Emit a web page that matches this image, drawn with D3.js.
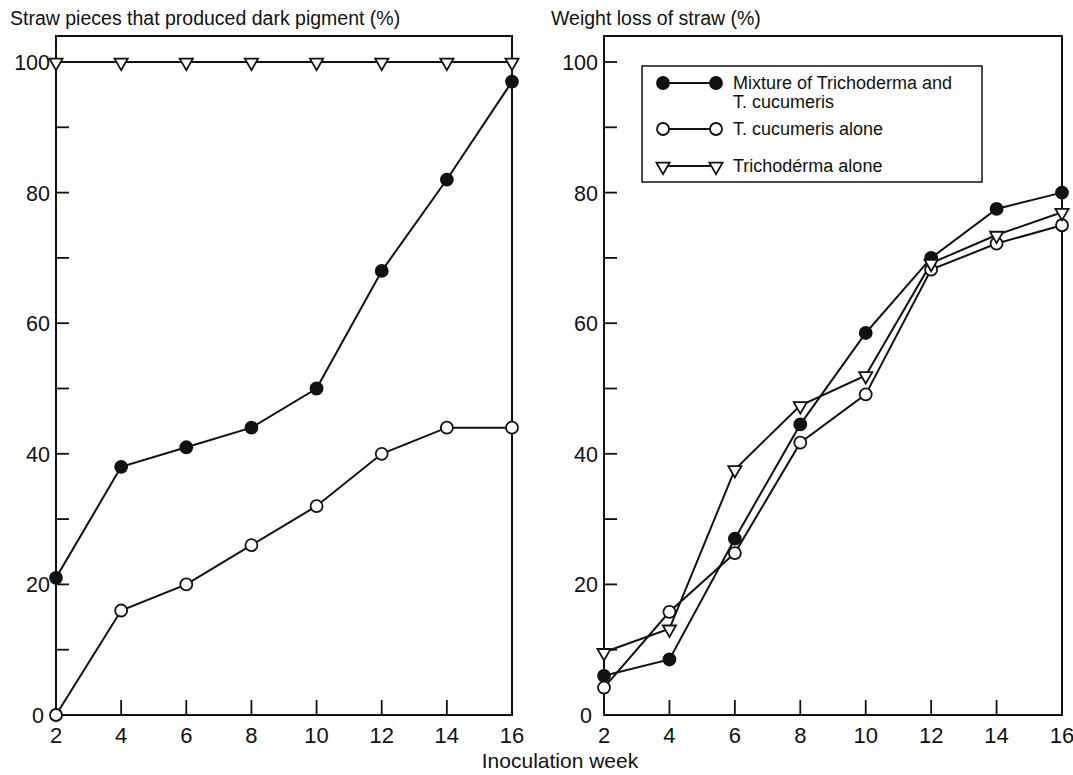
<!DOCTYPE html>
<html>
<head>
<meta charset="utf-8">
<script src="https://cdn.jsdelivr.net/npm/d3@7"></script>
<style>
  body { margin: 0; background: #fff; }
  text { font-family: "Liberation Sans", "DejaVu Sans", sans-serif; fill: #111; }
  .narrow { font-family: "Liberation Sans Narrow", "Liberation Sans", sans-serif; }
</style>
</head>
<body>
<div id="chart"></div>
<script>
var width = 1073, height = 775;

// inoculation weeks
var weeks = [2, 4, 6, 8, 10, 12, 14, 16];
var yTicks = [0, 20, 40, 60, 80, 100];
var yMinor = [10, 30, 50, 70, 90];

// straw pieces that produced dark pigment (%)
var pigMixture = [21, 38, 41, 44, 50, 68, 82, 97];
var pigCucumeris = [0, 16, 20, 26, 32, 40, 44, 44];
var pigTrichoderma = [100, 100, 100, 100, 100, 100, 100, 100];

// weight loss of straw (%)
var lossMixture = [6, 8.5, 27, 44.5, 58.5, 70, 77.5, 80];
var lossCucumeris = [4.2, 15.8, 24.8, 41.7, 49.1, 68.2, 72.2, 75];
var lossTrichoderma = [9.6, 13.2, 37.6, 47.4, 52, 69.2, 73.5, 77];

var legendLabels = [["Mixture of Trichoderma and", "T. cucumeris"], ["T. cucumeris alone"], ["Trichodérma alone"]];

var svg = d3.select("#chart").append("svg")
    .attr("width", width)
    .attr("height", height);

var frameTop = 36, frameBottom = 715, y100 = 62;

var triangle = d3.symbol().type(d3.symbolTriangle).size(75);

function drawMarker(g, kind, x, y) {
  if (kind === "tri") {
    g.append("path")
      .attr("d", triangle())
      .attr("transform", "translate(" + x + "," + (y + 0.5) + ") rotate(180)")
      .attr("fill", "#fff").attr("stroke", "#111").attr("stroke-width", 1.8);
  } else {
    g.append("circle")
      .attr("cx", x).attr("cy", y).attr("r", 6)
      .attr("fill", kind === "filled" ? "#111" : "#fff")
      .attr("stroke", "#111").attr("stroke-width", 1.8);
  }
}

function panel(left, right, title, titleX, series, withLegend) {
  var g = svg.append("g");
  var x = d3.scaleLinear().domain([2, 16]).range([left, right]);
  var y = d3.scaleLinear().domain([0, 100]).range([frameBottom, y100]);

  // frame
  g.append("rect")
    .attr("x", left).attr("y", frameTop)
    .attr("width", right - left).attr("height", frameBottom - frameTop)
    .attr("fill", "none").attr("stroke", "#111").attr("stroke-width", 2);

  // x ticks pointing inward
  g.selectAll(".xt").data(weeks.slice(1, -1)).enter().append("line")
    .attr("x1", d => x(d)).attr("x2", d => x(d))
    .attr("y1", frameBottom).attr("y2", frameBottom - 15)
    .attr("stroke", "#111").attr("stroke-width", 1.8);
  g.selectAll(".xl").data(weeks).enter().append("text")
    .attr("class", "narrow")
    .attr("x", d => x(d)).attr("y", frameBottom + 28)
    .attr("text-anchor", "middle")
    .style("font-size", "22px")
    .text(d => d);

  // y ticks pointing inward
  g.selectAll(".yt").data(yTicks.concat(yMinor).filter(d => d > 0)).enter().append("line")
    .attr("x1", left).attr("x2", left + 13)
    .attr("y1", d => y(d)).attr("y2", d => y(d))
    .attr("stroke", "#111").attr("stroke-width", 1.8);
  g.selectAll(".yl").data(yTicks).enter().append("text")
    .attr("x", d => d === 0 ? left - 12 : left - 6).attr("y", d => y(d) + 8)
    .attr("text-anchor", "end")
    .style("font-size", "21.5px")
    .text(d => d);

  g.append("text")
    .attr("x", titleX).attr("y", 25)
    .style("font-size", "19.5px")
    .text(title);

  var line = d3.line().x((d, i) => x(weeks[i])).y(d => y(d));
  series.forEach(function(s) {
    g.append("path")
      .attr("d", line(s.values))
      .attr("fill", "none").attr("stroke", "#111").attr("stroke-width", 2);
  });
  series.forEach(function(s) {
    s.values.forEach(function(v, i) { drawMarker(g, s.kind, x(weeks[i]), y(v)); });
  });

  if (withLegend) {
    var lg = g.append("g");
    lg.append("rect")
      .attr("x", 642).attr("y", 66).attr("width", 340).attr("height", 116)
      .attr("fill", "#fff").attr("stroke", "#111").attr("stroke-width", 1.5);
    var rows = [{kind: "filled", y: 83}, {kind: "open", y: 129}, {kind: "tri", y: 166}];
    rows.forEach(function(r, i) {
      lg.append("line")
        .attr("x1", 663).attr("x2", 716).attr("y1", r.y).attr("y2", r.y)
        .attr("stroke", "#111").attr("stroke-width", 2);
      drawMarker(lg, r.kind, 663, r.y);
      drawMarker(lg, r.kind, 716, r.y);
      legendLabels[i].forEach(function(t, j) {
        lg.append("text")
          .attr("x", 733).attr("y", r.y + 6 + j * 19)
          .style("font-size", "18px")
          .text(t);
      });
    });
  }
}

panel(56, 512, "Straw pieces that produced dark pigment (%)", 10, [
  {kind: "tri", values: pigTrichoderma},
  {kind: "filled", values: pigMixture},
  {kind: "open", values: pigCucumeris}
], false);

panel(604, 1062, "Weight loss of straw (%)", 551, [
  {kind: "filled", values: lossMixture},
  {kind: "open", values: lossCucumeris},
  {kind: "tri", values: lossTrichoderma}
], true);

svg.append("text")
  .attr("class", "narrow")
  .attr("x", 560).attr("y", 768)
  .attr("text-anchor", "middle")
  .style("font-size", "21px")
  .text("Inoculation week");
</script>
</body>
</html>
